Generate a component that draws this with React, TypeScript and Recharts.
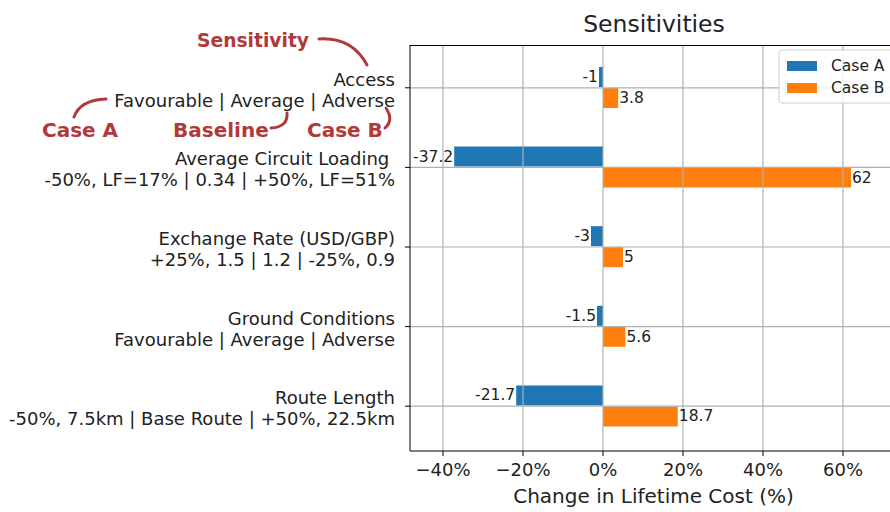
import React from 'react';
import { BarChart, Bar, XAxis, YAxis, ReferenceLine, LabelList } from 'recharts';

const categories = [
  'Access',
  'Average Circuit Loading ',
  'Exchange Rate (USD/GBP)',
  'Ground Conditions',
  'Route Length',
];
const ranges = [
  'Favourable | Average | Adverse',
  '-50%, LF=17% | 0.34 | +50%, LF=51%',
  '+25%, 1.5 | 1.2 | -25%, 0.9',
  'Favourable | Average | Adverse',
  '-50%, 7.5km | Base Route | +50%, 22.5km',
];
const caseA = [-1, -37.2, -3, -1.5, -21.7];
const caseB = [3.8, 62, 5, 5.6, 18.7];
const xTicks = [-40, -20, 0, 20, 40, 60];

const BLUE = '#1f77b4';
const ORANGE = '#ff7f0e';
const RED = '#b03a3a';
const FONT = 'DejaVu Sans';

const data = categories.map((name, i) => ({ name, caseA: caseA[i], caseB: caseB[i] }));

const YTick = (props: any) => {
  const { x, y, payload } = props;
  const i = payload.index;
  return (
    <g>
      <text x={x} y={y - 2} textAnchor="end" fontSize={18} fontFamily={FONT} fill="#222" style={{ whiteSpace: 'pre' }}>
        {categories[i]}
      </text>
      <text x={x} y={y + 19} textAnchor="end" fontSize={18} fontFamily={FONT} fill="#222">
        {ranges[i]}
      </text>
    </g>
  );
};

const XTick = (props: any) => {
  const { x, y, payload } = props;
  const v = payload.value;
  const s = (v < 0 ? '\u2212' : '') + Math.abs(v) + '%';
  return (
    <text x={x} y={y + 18} textAnchor="middle" fontSize={18} fontFamily={FONT} fill="#222">
      {s}
    </text>
  );
};

const barLabel = (side: 'left' | 'right') => (props: any) => {
  const { x, y, width, height, value } = props;
  const lo = Math.min(x, x + width);
  const hi = Math.max(x, x + width);
  const tx = side === 'left' ? lo - 1 : hi + 1;
  return (
    <text
      x={tx}
      y={y + height / 2 + 5}
      textAnchor={side === 'left' ? 'end' : 'start'}
      fontSize={15.5}
      fontFamily={FONT}
      fill="#222"
    >
      {value}
    </text>
  );
};

export default function App() {
  return (
    <div style={{ position: 'absolute', left: 0, top: 0, width: 890, height: 512, overflow: 'hidden', background: '#fff' }}>
      <BarChart
        width={910}
        height={512}
        data={data}
        layout="vertical"
        margin={{ top: 45, right: 13, bottom: 0, left: 0 }}
        barSize={20}
        barGap={1}
      >
        <XAxis
          type="number"
          domain={[-48.25, 73.5]}
          ticks={xTicks}
          allowDataOverflow
          tickSize={5}
          height={61}
          stroke="#000"
          tickLine={{ stroke: '#000' }}
          tick={<XTick />}
          label={{ value: 'Change in Lifetime Cost (%)', position: 'insideBottom', offset: 9, fontSize: 20, fontFamily: FONT, fill: '#222' }}
        />
        <YAxis
          type="category"
          dataKey="name"
          width={410}
          tickSize={5}
          tickMargin={10}
          interval={0}
          stroke="#000"
          tickLine={{ stroke: '#000' }}
          tick={<YTick />}
          padding={{ top: 3, bottom: 5 }}
        />
        <Bar dataKey="caseA" name="Case A" fill={BLUE} isAnimationActive={false}>
          <LabelList dataKey="caseA" content={barLabel('left')} />
        </Bar>
        <Bar dataKey="caseB" name="Case B" fill={ORANGE} isAnimationActive={false}>
          <LabelList dataKey="caseB" content={barLabel('right')} />
        </Bar>
        {xTicks.map(t => (
          <ReferenceLine key={'x' + t} x={t} stroke="#b0b0b0" strokeWidth={1.2} />
        ))}
        {categories.map(c => (
          <ReferenceLine key={'y' + c} y={c} stroke="#b0b0b0" strokeWidth={1.2} />
        ))}
      </BarChart>

      <svg width={890} height={512} style={{ position: 'absolute', left: 0, top: 0, pointerEvents: 'none' }}>
        {/* title and top spine */}
        <text x={654} y={32} textAnchor="middle" fontSize={23.5} fontFamily={FONT} fill="#222">Sensitivities</text>
        <line x1={410} y1={45.5} x2={890} y2={45.5} stroke="#000" strokeWidth={1} />

        {/* legend */}
        <rect x={779} y={50} width={130} height={53} rx={3} fill="#fff" fillOpacity={0.85} stroke="#d0d0d0" />
        <rect x={787} y={61} width={30} height={10} fill={BLUE} />
        <text x={831} y={71} fontSize={15.5} fontFamily={FONT} fill="#222">Case A</text>
        <rect x={787} y={83} width={30} height={10} fill={ORANGE} />
        <text x={831} y={93} fontSize={15.5} fontFamily={FONT} fill="#222">Case B</text>

        {/* explanatory annotations */}
        <g fontFamily={FONT} fontWeight="bold" fill={RED}>
          <text x={197} y={47} fontSize={18.7}>Sensitivity</text>
          <text x={42} y={137} fontSize={20}>Case A</text>
          <text x={173} y={137} fontSize={20}>Baseline</text>
          <text x={307} y={137} fontSize={20}>Case B</text>
        </g>
        <g fill="none" stroke={RED} strokeWidth={3} strokeLinecap="round">
          <path d="M319,39 Q352,37 367,65" />
          <path d="M106,99 Q80,100 74,117" />
          <path d="M271,128 Q288,127 287,113" />
          <path d="M386,108 Q394,120 385,128" />
        </g>
      </svg>
    </div>
  );
}
